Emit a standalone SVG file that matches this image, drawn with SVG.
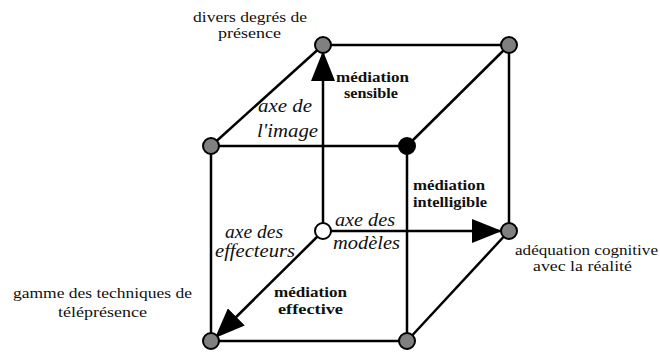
<svg xmlns="http://www.w3.org/2000/svg" width="660" height="354" viewBox="0 0 660 354">
<style>
.e{stroke:#000;stroke-width:2.5;fill:none}
.n{stroke:#000;stroke-width:2;fill:#808080}
.t{font-size:15px}
.i{font-size:18px;font-style:italic}
.b{font-size:15px;font-weight:bold}
</style>
<defs>
<marker id="ah" viewBox="0 0 30 24" refX="30" refY="12" markerWidth="30" markerHeight="24" markerUnits="userSpaceOnUse" orient="auto">
<path d="M0,0 L30,12 L0,24 z" fill="#000"/>
</marker>
</defs>
<rect width="660" height="354" fill="#fff"/>
<g id="connectors">
<line class="e" x1="323" y1="45" x2="509" y2="45"/>
<line class="e" x1="509" y1="45" x2="509" y2="231"/>
<line class="e" x1="211" y1="146" x2="407" y2="146"/>
<line class="e" x1="211" y1="146" x2="211" y2="341"/>
<line class="e" x1="407" y1="146" x2="407" y2="341"/>
<line class="e" x1="211" y1="341" x2="407" y2="341"/>
<line class="e" x1="323" y1="45" x2="211" y2="146"/>
<line class="e" x1="509" y1="45" x2="407" y2="146"/>
<line class="e" x1="509" y1="231" x2="407" y2="341"/>
<line class="e" x1="323" y1="231" x2="323" y2="51" marker-end="url(#ah)"/>
<line class="e" x1="323" y1="231" x2="502" y2="231" marker-end="url(#ah)"/>
<line class="e" x1="323" y1="231" x2="215" y2="338" marker-end="url(#ah)"/>
</g>
<g id="n-tbl"><circle class="n" cx="323" cy="45" r="8"/></g>
<g id="n-tbr"><circle class="n" cx="509" cy="45" r="8"/></g>
<g id="n-tfl"><circle class="n" cx="211" cy="146" r="8"/></g>
<g id="n-tfr"><circle cx="407" cy="146" r="8" fill="#000" stroke="#000" stroke-width="2"/></g>
<g id="n-center"><circle cx="323" cy="231" r="8" fill="#fff" stroke="#000" stroke-width="2"/></g>
<g id="n-bbr"><circle class="n" cx="509" cy="231" r="8"/></g>
<g id="n-bfl"><circle class="n" cx="211" cy="341" r="8"/></g>
<g id="n-bfr"><circle class="n" cx="407" cy="341" r="8"/></g>
<g id="labels" font-family="Liberation Serif, Times New Roman, serif" fill="#111">
<text class="t" x="193" y="22" textLength="114" lengthAdjust="spacingAndGlyphs">divers degrés de</text>
<text class="t" x="218" y="38" textLength="63" lengthAdjust="spacingAndGlyphs">présence</text>
<text class="i" x="258" y="112" textLength="54" lengthAdjust="spacingAndGlyphs">axe de</text>
<text class="i" x="257" y="137" textLength="61" lengthAdjust="spacingAndGlyphs">l'image</text>
<text class="b" x="336" y="82" textLength="73" lengthAdjust="spacingAndGlyphs">médiation</text>
<text class="b" x="344" y="98" textLength="54" lengthAdjust="spacingAndGlyphs">sensible</text>
<text class="b" x="413" y="190" textLength="72" lengthAdjust="spacingAndGlyphs">médiation</text>
<text class="b" x="413" y="207" textLength="74" lengthAdjust="spacingAndGlyphs">intelligible</text>
<text class="i" x="335" y="226" textLength="60" lengthAdjust="spacingAndGlyphs">axe des</text>
<text class="i" x="333" y="249" textLength="67" lengthAdjust="spacingAndGlyphs">modèles</text>
<text class="i" x="225" y="238" textLength="58" lengthAdjust="spacingAndGlyphs">axe des</text>
<text class="i" x="215" y="257" textLength="80" lengthAdjust="spacingAndGlyphs">effecteurs</text>
<text class="b" x="274" y="297" textLength="73" lengthAdjust="spacingAndGlyphs">médiation</text>
<text class="b" x="278" y="314" textLength="65" lengthAdjust="spacingAndGlyphs">effective</text>
<text class="t" x="13" y="298" textLength="179" lengthAdjust="spacingAndGlyphs">gamme des techniques de</text>
<text class="t" x="58" y="317" textLength="89" lengthAdjust="spacingAndGlyphs">téléprésence</text>
<text class="t" x="515" y="255" textLength="143" lengthAdjust="spacingAndGlyphs">adéquation cognitive</text>
<text class="t" x="533" y="271" textLength="99" lengthAdjust="spacingAndGlyphs">avec la réalité</text>
</g>
</svg>
